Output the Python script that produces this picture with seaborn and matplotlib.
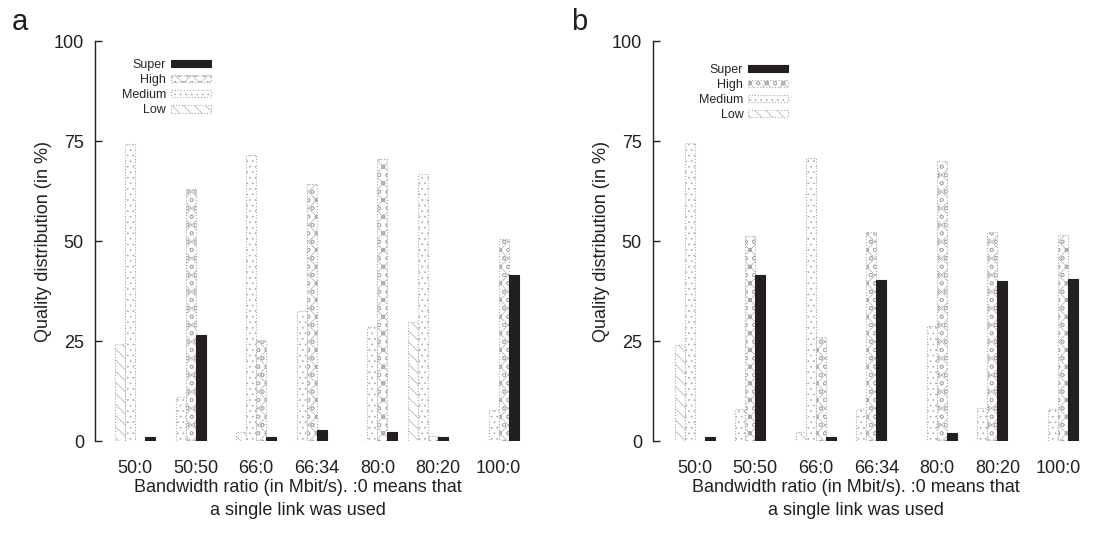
import numpy as np
import pandas as pd
import matplotlib
matplotlib.use("Agg")
import matplotlib.pyplot as plt
import matplotlib.patches as mpatches
import seaborn as sns

# Bandwidth configurations and quality levels
ratios = ["50:0", "50:50", "66:0", "66:34", "80:0", "80:20", "100:0"]
levels = ["Low", "Medium", "High", "Super"]
yticks = [0, 25, 50, 75, 100]

# Quality distribution (in %) for panel a
a_low = [24.2, 0.0, 2.2, 0.0, 0.0, 29.7, 0.0]
a_medium = [74.3, 11.0, 71.4, 32.6, 28.4, 66.7, 7.8]
a_high = [0.0, 62.9, 25.2, 64.2, 70.4, 1.2, 50.5]
a_super = [1.0, 26.5, 1.0, 2.7, 2.2, 1.0, 41.5]

# Quality distribution (in %) for panel b
b_low = [24.0, 0.0, 2.2, 0.0, 0.0, 0.0, 0.0]
b_medium = [74.6, 7.9, 70.7, 7.9, 28.8, 8.3, 7.9]
b_high = [0.0, 51.3, 26.0, 52.3, 70.0, 52.3, 51.5]
b_super = [1.0, 41.4, 1.0, 40.2, 2.1, 40.0, 40.6]

# Layout: single bar width (data units) and per-group shift in bar widths
BAR_W = 0.165
group_shift = [0, -1, 0, -1, 0, -1, 0]

GRAY = "#ababab"
DARK = "#231f20"
styles = {
    "Low": dict(facecolor="white", edgecolor=GRAY, hatch="\\\\\\", linestyle=":"),
    "Medium": dict(facecolor="white", edgecolor=GRAY, hatch="...", linestyle=":"),
    "High": dict(facecolor="white", edgecolor=GRAY, hatch="xxoo", linestyle=":"),
    "Super": dict(facecolor=DARK, edgecolor=DARK, hatch=None, linestyle="-"),
}

sns.set_theme(style="white")
plt.rcParams["font.family"] = ["Liberation Sans", "DejaVu Sans"]
plt.rcParams["hatch.linewidth"] = 0.5

W, H = 1093, 533
fig = plt.figure(figsize=(W / 100, H / 100), dpi=100)


def long_table(series):
    pos = np.arange(len(ratios)) + np.array(group_shift) * BAR_W
    rows = []
    for level, values in zip(levels, series):
        for p, v in zip(pos, values):
            rows.append({"pos": p, "level": level, "value": v})
    return pd.DataFrame(rows)


def panel(rect, series, xlim, letter, letter_x, legend_anchor):
    ax = fig.add_axes(rect)
    df = long_table(series)
    palette = {lv: styles[lv]["facecolor"] for lv in levels}
    sns.barplot(data=df, x="pos", y="value", hue="level", hue_order=levels,
                palette=palette, native_scale=True, dodge=True,
                width=4 * BAR_W / (1 - BAR_W), saturation=1, errorbar=None,
                legend=False, ax=ax)
    for container, lv in zip(ax.containers, levels):
        st = styles[lv]
        for patch in container:
            patch.set_edgecolor(st["edgecolor"])
            patch.set_hatch(st["hatch"])
            patch.set_linestyle(st["linestyle"])
            patch.set_linewidth(0.8)

    ax.set_xlim(*xlim)
    ax.set_ylim(0, 100)
    ax.set_xticks(range(len(ratios)))
    ax.set_xticklabels(ratios)
    ax.set_yticks(yticks)
    ax.set_yticklabels([str(t) for t in yticks])
    ax.tick_params(axis="x", length=0, pad=14, labelsize=13, colors=DARK)
    ax.tick_params(axis="y", direction="in", length=5, width=1, pad=8,
                   labelsize=13, colors=DARK, left=True)
    sns.despine(ax=ax, bottom=True)
    ax.spines["left"].set_color(DARK)
    ax.spines["left"].set_linewidth(1.0)

    ax.set_ylabel("Quality distribution (in %)", fontsize=13, color=DARK)
    ax.yaxis.set_label_coords(-0.1, 0.5)
    ax.set_xlabel("Bandwidth ratio (in Mbit/s). :0 means that\na single link was used",
                  fontsize=13, color=DARK, linespacing=1.45)
    ax.xaxis.set_label_coords(0.467, -0.095)

    handles = []
    for lv in reversed(levels):
        st = styles[lv]
        handles.append(mpatches.Patch(facecolor=st["facecolor"], edgecolor=st["edgecolor"],
                                      hatch=st["hatch"], linestyle=st["linestyle"],
                                      linewidth=0.8, label=lv))
    ax.legend(handles=handles, loc="upper left", bbox_to_anchor=legend_anchor,
              frameon=False, markerfirst=False, fontsize=9, handlelength=3.2,
              handleheight=0.5, handletextpad=0.4, labelspacing=0.25,
              borderpad=0, borderaxespad=0)

    fig.text(letter_x, 1 - 30 / H, letter, fontsize=21, va="baseline", color=DARK)
    return ax


panel([95 / W, 92 / H, 434 / W, 400 / H],
      [a_low, a_medium, a_high, a_super], (-0.66, 6.50), "a", 12 / W, (0.062, 0.955))
panel([653 / W, 92 / H, 434 / W, 400 / H],
      [b_low, b_medium, b_high, b_super], (-0.69, 6.48), "b", 571 / W, (0.106, 0.943))

fig.savefig("out.png", dpi=100)
